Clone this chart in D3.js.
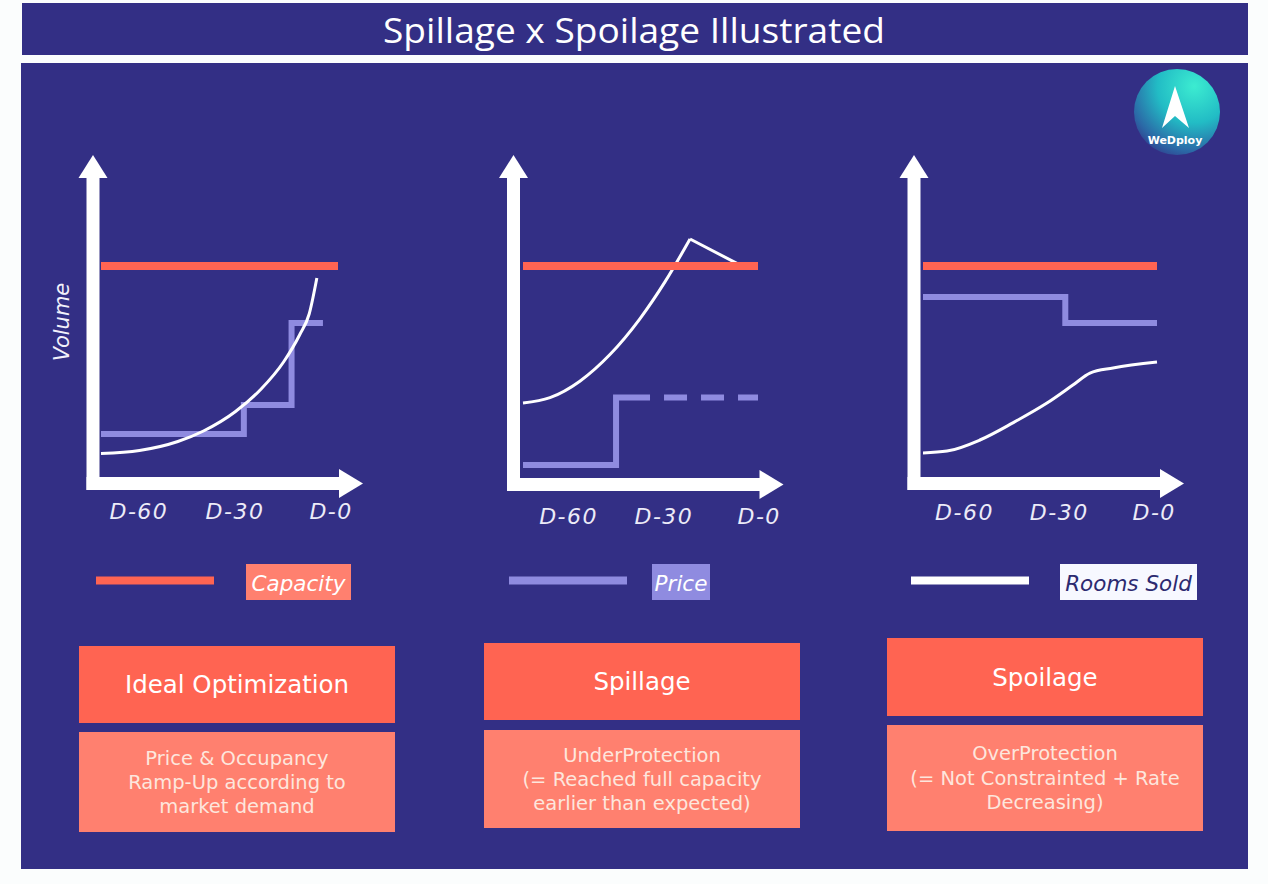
<!DOCTYPE html>
<html>
<head>
<meta charset="utf-8">
<script src="https://cdn.jsdelivr.net/npm/d3@7"></script>
<style>
html, body { margin: 0; padding: 0; background: #fbfdfd; }
svg { display: block; font-family: "DejaVu Sans", sans-serif; }
</style>
</head>
<body>
<div id="chart"></div>
<script>
// booking window, days before arrival
var tickDays = [-60, -30, 0];

// volume values (0-100), as [day, volume]
var idealCapacity = [[-72, 68], [2, 68]];
var idealPrice = [[-72, 12], [-27.4, 21.7], [-12.5, 49], [-2.7, 49]];
var idealRooms = [[-72, 5.5], [-60, 6.5], [-48, 9.5], [-40, 13], [-30, 19.5], [-22, 27], [-15, 36], [-10, 45], [-7, 52], [-4.6, 64]];

var spillCapacity = [[-72, 68], [2, 68]];
var spillPrice = [[-72, 1.7], [-42.7, 24.2], [-32, 24.2]];
var spillPriceForecast = [[-32, 24.2], [2, 24.2]];
var spillRoomsUp = [[-72, 22.3], [-63.5, 24.1], [-54.1, 29.6], [-44.7, 38.4], [-35.2, 50.4], [-27.3, 62.7], [-19.4, 77]];
var spillRoomsDown = [[-19.4, 77], [-1.6, 67.2], [0.5, 68]];

var spoilCapacity = [[-72, 68], [2, 68]];
var spoilPrice = [[-72, 57.7], [-27, 49], [2, 49]];
var spoilRooms = [[-72, 5.7], [-64.4, 6.3], [-54, 10], [-43.6, 15.7], [-32.8, 22.3], [-24.6, 28.3], [-19.2, 32.3], [-11.9, 34], [2, 36]];

var legendLabels = ['Capacity', 'Price', 'Rooms Sold'];
var caseTitles = ['Ideal Optimization', 'Spillage', 'Spoilage'];
var caseNotes = [
    ['Price & Occupancy', 'Ramp-Up according to', 'market demand'],
    ['UnderProtection', '(= Reached full capacity', 'earlier than expected)'],
    ['OverProtection', '(= Not Constrainted + Rate', 'Decreasing)']
];

var navy = '#332f85';
var coral = '#ff6452';
var salmon = '#ff806f';
var lavender = '#8f8be0';

var W = 1268, H = 884;

var svg = d3.select('#chart')
    .append('svg')
    .attr('width', W)
    .attr('height', H);

// title bar + panel
svg.append('rect').attr('x', 22).attr('y', 3).attr('width', 1226).attr('height', 52).attr('fill', navy);
svg.append('rect').attr('x', 21).attr('y', 63).attr('width', 1227).attr('height', 806).attr('fill', navy);
svg.append('text')
    .text('Spillage x Spoilage Illustrated')
    .attr('x', 634)
    .attr('y', 30)
    .attr('text-anchor', 'middle')
    .attr('dominant-baseline', 'central')
    .attr('font-family', '"Open Sans", sans-serif')
    .attr('textLength', 502)
    .attr('lengthAdjust', 'spacingAndGlyphs')
    .attr('font-size', 34)
    .attr('fill', '#ffffff');

// logo
var defs = svg.append('defs');
var grad = defs.append('radialGradient')
    .attr('id', 'logoGrad')
    .attr('cx', 0.7).attr('cy', 0.2).attr('r', 0.95);
grad.append('stop').attr('offset', '0%').attr('stop-color', '#3cecd1');
grad.append('stop').attr('offset', '45%').attr('stop-color', '#22bcc5');
grad.append('stop').attr('offset', '80%').attr('stop-color', '#2b68a6');
grad.append('stop').attr('offset', '100%').attr('stop-color', navy);
svg.append('circle').attr('cx', 1177).attr('cy', 112).attr('r', 43).attr('fill', 'url(#logoGrad)');
svg.append('path')
    .attr('d', 'M1175,86 L1162,128 L1175,116 L1189,128 Z')
    .attr('fill', '#ffffff');
svg.append('text')
    .text('WeDploy')
    .attr('x', 1175)
    .attr('y', 144)
    .attr('text-anchor', 'middle')
    .attr('font-size', 11)
    .attr('font-weight', 700)
    .attr('fill', '#ffffff');

// three small charts
var charts = [
    { ox: 93, oy: 483.5, x0: 101, x1: 338, labelDy: 20, labelDx: -1,
      capacity: idealCapacity, price: idealPrice, forecast: null, rooms: idealRooms, roomsFall: null },
    { ox: 513.5, oy: 484.5, x0: 523, x1: 758, labelDy: 24, labelDx: 7,
      capacity: spillCapacity, price: spillPrice, forecast: spillPriceForecast, rooms: spillRoomsUp, roomsFall: spillRoomsDown },
    { ox: 914, oy: 483.5, x0: 923, x1: 1157, labelDy: 21, labelDx: 3,
      capacity: spoilCapacity, price: spoilPrice, forecast: null, rooms: spoilRooms, roomsFall: null }
];

var y = d3.scaleLinear().domain([0, 100]).range([470, 170]);

charts.forEach(function (c) {
    var g = svg.append('g');
    var x = d3.scaleLinear().domain([-72, 2]).range([c.x0, c.x1]);
    var line = d3.line()
        .x(function (d) { return x(d[0]); })
        .y(function (d) { return y(d[1]); });

    // axes drawn as fat arrows
    g.append('rect').attr('x', c.ox - 6.5).attr('y', 176).attr('width', 13).attr('height', c.oy + 6.5 - 176).attr('fill', '#fff');
    g.append('path')
        .attr('d', 'M' + (c.ox - 14.5) + ',178 L' + c.ox + ',155 L' + (c.ox + 14.5) + ',178 Z')
        .attr('fill', '#fff');
    g.append('rect').attr('x', c.ox - 6.5).attr('y', c.oy - 6.5).attr('width', 254).attr('height', 13).attr('fill', '#fff');
    g.append('path')
        .attr('d', 'M' + (c.ox + 246) + ',' + (c.oy - 14.5) + ' L' + (c.ox + 270) + ',' + c.oy + ' L' + (c.ox + 246) + ',' + (c.oy + 14.5) + ' Z')
        .attr('fill', '#fff');

    var ax = g.append('g')
        .attr('transform', 'translate(' + c.labelDx + ',' + (c.oy + c.labelDy) + ')')
        .call(d3.axisBottom(x)
            .tickValues(tickDays)
            .tickFormat(function (d) { return 'D-' + Math.abs(d); })
            .tickSize(0)
            .tickPadding(0));
    ax.select('.domain').remove();
    ax.selectAll('text')
        .attr('font-family', '"DejaVu Sans", sans-serif')
        .attr('font-style', 'italic')
        .attr('font-size', 22)
        .attr('letter-spacing', 1.5)
        .attr('fill', '#ecebf8');

    g.append('path')
        .attr('d', line.curve(d3.curveStepAfter)(c.price))
        .attr('fill', 'none')
        .attr('stroke', lavender)
        .attr('stroke-width', 6);
    if (c.forecast) {
        g.append('path')
            .attr('d', line.curve(d3.curveLinear)(c.forecast))
            .attr('fill', 'none')
            .attr('stroke', lavender)
            .attr('stroke-width', 6)
            .attr('stroke-dasharray', '23 14')
            .attr('stroke-dashoffset', 23);
    }
    g.append('path')
        .attr('d', line.curve(d3.curveMonotoneX)(c.rooms))
        .attr('fill', 'none')
        .attr('stroke', '#fff')
        .attr('stroke-width', 3);
    if (c.roomsFall) {
        g.append('path')
            .attr('d', line.curve(d3.curveLinear)(c.roomsFall))
            .attr('fill', 'none')
            .attr('stroke', '#fff')
            .attr('stroke-width', 3)
            .attr('stroke-linejoin', 'round');
    }
    g.append('path')
        .attr('d', line.curve(d3.curveLinear)(c.capacity))
        .attr('fill', 'none')
        .attr('stroke', coral)
        .attr('stroke-width', 8);
});

svg.append('text')
    .text('Volume')
    .attr('transform', 'translate(62,322) rotate(-90)')
    .attr('text-anchor', 'middle')
    .attr('dominant-baseline', 'central')
    .attr('font-style', 'italic')
    .attr('font-size', 21)
    .attr('fill', '#f2f1fb');

// legend
var legendPos = [
    { lx: 96, bx: 246, bw: 105, line: coral, box: salmon, text: '#ffffff' },
    { lx: 509, bx: 652, bw: 58, line: lavender, box: lavender, text: '#ffffff' },
    { lx: 911, bx: 1060, bw: 137, line: '#ffffff', box: '#f7f8ff', text: '#2c2a70' }
];
legendLabels.forEach(function (label, i) {
    var p = legendPos[i];
    svg.append('rect').attr('x', p.lx).attr('y', 576.5).attr('width', 118).attr('height', 8).attr('fill', p.line);
    svg.append('rect').attr('x', p.bx).attr('y', 564).attr('width', p.bw).attr('height', 36).attr('fill', p.box);
    svg.append('text')
        .text(label)
        .attr('x', p.bx + p.bw / 2)
        .attr('y', 583)
        .attr('text-anchor', 'middle')
        .attr('dominant-baseline', 'central')
        .attr('font-style', 'italic')
        .attr('font-size', 21.5)
        .attr('fill', p.text);
});

// case boxes
var boxPos = [
    { x: 79, ty: 646, th: 77, dy: 732, dh: 100, lines: [758, 782, 806] },
    { x: 484, ty: 643, th: 77, dy: 730, dh: 98, lines: [755, 779, 803] },
    { x: 887, ty: 638, th: 78, dy: 725, dh: 106, lines: [753, 778, 802] }
];
caseTitles.forEach(function (title, i) {
    var b = boxPos[i];
    var cx = b.x + 158;
    svg.append('rect').attr('x', b.x).attr('y', b.ty).attr('width', 316).attr('height', b.th).attr('fill', coral);
    svg.append('text')
        .text(title)
        .attr('x', cx)
        .attr('y', b.ty + b.th / 2)
        .attr('text-anchor', 'middle')
        .attr('dominant-baseline', 'central')
        .attr('font-size', 24.5)
        .attr('fill', '#ffffff');
    svg.append('rect').attr('x', b.x).attr('y', b.dy).attr('width', 316).attr('height', b.dh).attr('fill', salmon);
    caseNotes[i].forEach(function (t, j) {
        svg.append('text')
            .text(t)
            .attr('x', cx)
            .attr('y', b.lines[j])
            .attr('text-anchor', 'middle')
            .attr('dominant-baseline', 'central')
            .attr('font-size', 19.5)
            .attr('fill', '#fde6dd');
    });
});
</script>
</body>
</html>
